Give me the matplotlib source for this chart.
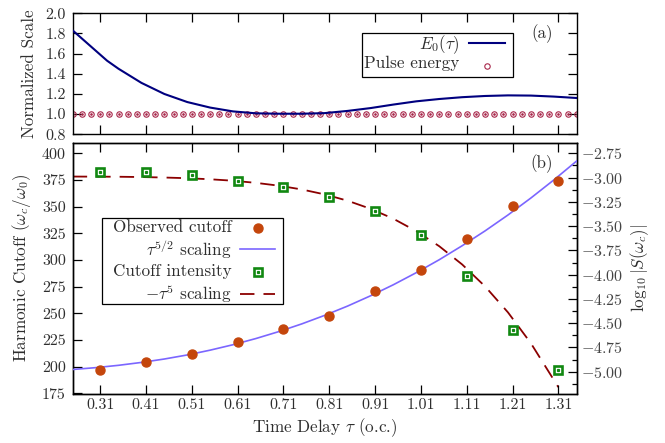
import numpy as np
import matplotlib
matplotlib.use('Agg')
import matplotlib.pyplot as plt
from matplotlib.lines import Line2D
from matplotlib.patches import Rectangle

plt.rcParams['font.family'] = 'cmr10'
plt.rcParams['mathtext.fontset'] = 'cm'
plt.rcParams['axes.formatter.use_mathtext'] = True
plt.rcParams['axes.unicode_minus'] = False

TXT = '#2e2e2e'

# ---- data ----
# top panel: E0(tau) curve
e0_tau = [0.25, 0.275, 0.30, 0.325, 0.35, 0.40, 0.45, 0.50, 0.55, 0.60, 0.65, 0.70, 0.75,
          0.80, 0.85, 0.90, 0.95, 1.00, 1.05, 1.10, 1.15, 1.20, 1.25, 1.30, 1.35]
e0_val = [1.83, 1.73, 1.63, 1.53, 1.45, 1.31, 1.20, 1.12, 1.065, 1.027, 1.008, 1.004, 1.004,
          1.010, 1.032, 1.06, 1.095, 1.127, 1.15, 1.168, 1.18, 1.186, 1.184, 1.174, 1.16]
# pulse energy samples (every 0.02 o.c.)
pulse_tau = np.linspace(0.25, 1.35, 56)
pulse_val = [1.0] * 56

# bottom panel
delay = [0.31, 0.41, 0.51, 0.61, 0.71, 0.81, 0.91, 1.01, 1.11, 1.21, 1.31]
cutoff = [196.6, 204.7, 211.8, 222.8, 235.7, 247.8, 270.6, 291.0, 320.0, 350.3, 374.0]
intensity = [-2.94, -2.946, -2.977, -3.032, -3.094, -3.197, -3.34, -3.595, -4.015, -4.57, -4.984]

fit_tau = [0.25, 0.30, 0.35, 0.40, 0.45, 0.50, 0.55, 0.60, 0.65, 0.70, 0.75, 0.80,
           0.85, 0.90, 0.95, 1.00, 1.05, 1.10, 1.15, 1.20, 1.25, 1.30, 1.35]
fit_cutoff = [197.5, 199.2, 201.4, 204.1, 207.3, 211.1, 215.6, 220.7, 226.5, 233.0, 240.2, 248.2,
              256.9, 266.5, 276.9, 288.2, 300.3, 313.4, 327.3, 342.2, 358.1, 375.0, 392.8]
fit5_tau = [0.25, 0.30, 0.35, 0.40, 0.45, 0.50, 0.55, 0.60, 0.65, 0.70, 0.75, 0.80,
            0.85, 0.90, 0.95, 1.00, 1.05, 1.10, 1.15, 1.20, 1.25, 1.31]
fit5_val = [-2.989, -2.990, -2.991, -2.994, -2.999, -3.006, -3.017, -3.032, -3.054, -3.083, -3.122,
            -3.173, -3.238, -3.321, -3.424, -3.552, -3.707, -3.895, -4.121, -4.389, -4.707, -5.160]

xticks = [0.31, 0.41, 0.51, 0.61, 0.71, 0.81, 0.91, 1.01, 1.11, 1.21, 1.31]

W, H = 665, 443
fig = plt.figure(figsize=(W / 100, H / 100), dpi=100)
L, R = 72.7 / W, 576.7 / W
ax1 = fig.add_axes([L, 1 - 134.3 / H, R - L, (134.3 - 13.3) / H])
ax2 = fig.add_axes([L, 1 - 393.5 / H, R - L, (393.5 - 142.5) / H])
ax3 = ax2.twinx()

navy = '#00007f'
pink = '#a8274a'
orange = '#c4460c'
violet = '#7b66ff'
green = '#118811'
dred = '#8b0000'
FS = 12.3

# top panel
ax1.plot(e0_tau, e0_val, color=navy, lw=1.5, zorder=3)
ax1.plot(pulse_tau, pulse_val, ls='none', marker='o', ms=3.9, mfc='none', mec=pink, mew=0.8, zorder=2)
ax1.plot(pulse_tau, pulse_val, ls='none', marker='o', ms=0.9, color=pink, zorder=2)
ax1.set_xlim(0.25, 1.35)
ax1.set_ylim(0.8, 2.0)
ax1.set_xticks(xticks)
ax1.set_xticklabels([])
ax1.set_yticks([0.8, 1.0, 1.2, 1.4, 1.6, 1.8, 2.0])
ax1.set_yticklabels(['0.8', '1.0', '1.2', '1.4', '1.6', '1.8', '2.0'])
ax1.set_ylabel('Normalized Scale', fontsize=FS, color=TXT, labelpad=6)
ax1.tick_params(direction='in', length=6.5, width=0.9, top=True, right=True,
                labelsize=11.5, labelcolor=TXT, pad=5)

# bottom panel
ax3.plot(fit5_tau, fit5_val, color=dred, lw=1.3, dashes=(8, 5), zorder=2)
ax3.plot(delay, intensity, ls='none', marker='s', ms=6.2, mfc='white', mec=green, mew=1.9, zorder=3)
ax3.plot(delay, intensity, ls='none', marker='s', ms=1.3, color=green, zorder=4)
ax2.plot(fit_tau, fit_cutoff, color=violet, lw=1.2, zorder=3)
ax2.plot(delay, cutoff, ls='none', marker='o', ms=6.5, color=orange, zorder=4)
ax2.set_zorder(ax3.get_zorder() + 1)
ax2.patch.set_visible(False)

ax2.set_xlim(0.25, 1.35)
ax2.set_ylim(175, 410.1)
ax2.set_xticks(xticks)
ax2.set_xticklabels(['%.2f' % t for t in xticks])
ax2.set_yticks(np.arange(175, 401, 25))
ax2.set_yticklabels([str(v) for v in range(175, 401, 25)])
ax2.tick_params(direction='in', length=6.5, width=0.9, top=True, right=False,
                labelsize=11.5, labelcolor=TXT, pad=5)
ax2.tick_params(axis='x', pad=3.5)
ax2.set_xlabel(r'Time Delay $\tau$ (o.c.)', fontsize=FS, color=TXT, labelpad=3)
ax2.set_ylabel(r'Harmonic Cutoff $(\omega_c/\omega_0)$', fontsize=FS, color=TXT, labelpad=6)

ax3.set_ylim(-5.225, -2.638)
rt = [-5.0, -4.75, -4.5, -4.25, -4.0, -3.75, -3.5, -3.25, -3.0, -2.75]
ax3.set_yticks(rt)
ax3.set_yticklabels([r'$-%.2f$' % abs(v) for v in rt])
ax3.set_yticks([v - 0.125 for v in rt], minor=True)
ax3.tick_params(axis='y', which='major', direction='in', length=6.5, width=0.9,
                labelsize=11.5, labelcolor='#444444', pad=3)
ax3.tick_params(axis='y', which='minor', direction='in', length=3.5, width=0.9)
ax3.set_ylabel(r'$\log_{10}|S(\omega_c)|$', fontsize=FS, color=TXT, labelpad=4)

for a in (ax1, ax2, ax3):
    for s in a.spines.values():
        s.set_linewidth(1.0)

# panel labels
fig.text(541.7 / W, 1 - 33.3 / H, '(a)', fontsize=FS, color=TXT, ha='center', va='center')
fig.text(542 / W, 1 - 164 / H, '(b)', fontsize=FS, color=TXT, ha='center', va='center')


def px(x, y):
    return x / W, 1 - y / H


# legend (a), gnuplot style
fig.patches.append(Rectangle(px(361.7, 76.7), 151 / W, 43.4 / H, transform=fig.transFigure,
                             fill=False, ec='black', lw=0.9))
fig.text(*px(459.3, 45), r'$E_0(\tau)$', fontsize=FS, color=TXT, ha='right', va='center')
fig.lines.append(Line2D([469.3 / W, 504.7 / W], [1 - 43.3 / H] * 2, transform=fig.transFigure,
                        color=navy, lw=1.5))
fig.text(*px(459.3, 63), 'Pulse energy', fontsize=FS, color=TXT, ha='right', va='center')
fig.lines.append(Line2D([486.7 / W], [1 - 65.5 / H], transform=fig.transFigure, ls='none',
                        marker='o', ms=3.9, mfc='none', mec=pink, mew=0.8))

# legend (b)
fig.patches.append(Rectangle(px(101.7, 304.3), 181.6 / W, 86.6 / H, transform=fig.transFigure,
                             fill=False, ec='black', lw=0.9, zorder=5))
rows = [('Observed cutoff', 227), (r'$\tau^{5/2}$ scaling', 249.5),
        ('Cutoff intensity', 271), (r'$-\tau^5$ scaling', 293.7)]
for txt, yy in rows:
    fig.text(*px(231.7, yy), txt, fontsize=FS, color=TXT, ha='right', va='center')
fig.lines.append(Line2D([257.7 / W], [1 - 227.5 / H], transform=fig.transFigure, ls='none',
                        marker='o', ms=6.5, color=orange))
fig.lines.append(Line2D([240 / W, 275.3 / W], [1 - 249.3 / H] * 2, transform=fig.transFigure,
                        color=violet, lw=1.2))
fig.lines.append(Line2D([257.7 / W], [1 - 272 / H], transform=fig.transFigure, ls='none',
                        marker='s', ms=6.2, mfc='white', mec=green, mew=1.9))
fig.lines.append(Line2D([257.7 / W], [1 - 272 / H], transform=fig.transFigure, ls='none',
                        marker='s', ms=1.3, color=green))
fig.lines.append(Line2D([240 / W, 275.3 / W], [1 - 293.7 / H] * 2, transform=fig.transFigure,
                        color=dred, lw=1.3, dashes=(8, 5)))

fig.savefig('out.png', dpi=100)
